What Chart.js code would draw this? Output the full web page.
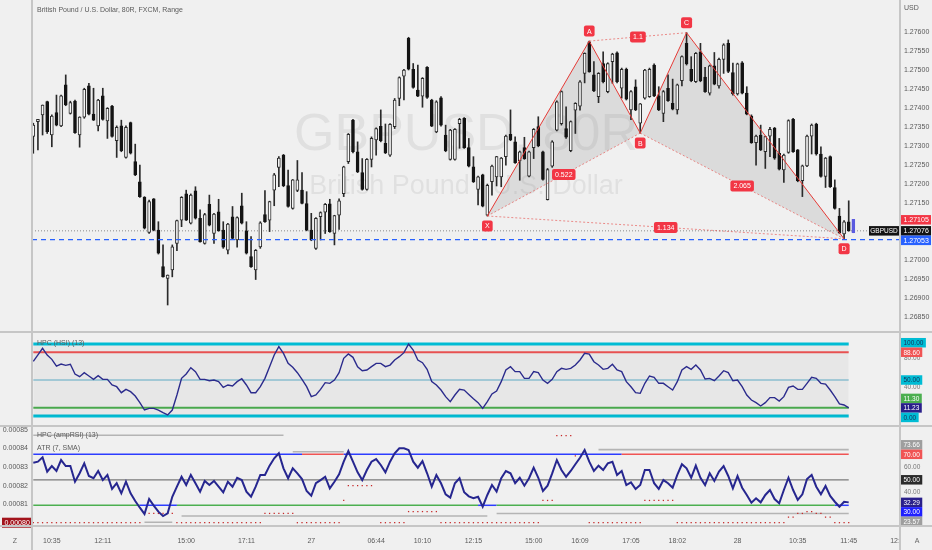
<!DOCTYPE html>
<html><head><meta charset="utf-8">
<script src="https://cdn.jsdelivr.net/npm/chart.js@4.4.1/dist/chart.umd.min.js"></script>
<style>
html,body{margin:0;padding:0;background:#f0f0f0;}
#wrap{position:relative;width:932px;height:550px;overflow:hidden;background:#f0f0f0;}
canvas{position:absolute;left:0;}
.sep{position:absolute;background:#c6c6c6;z-index:5;}
</style></head><body>
<div id="wrap">
<canvas id="c1" width="932" height="332" style="top:0;width:932px;height:332px"></canvas>
<canvas id="c2" width="932" height="94" style="top:332px;width:932px;height:94px"></canvas>
<canvas id="c3" width="932" height="124" style="top:426px;width:932px;height:124px"></canvas>
<div class="sep" style="left:0;top:331px;width:932px;height:2px"></div>
<div class="sep" style="left:0;top:425px;width:932px;height:2px"></div>
<div class="sep" style="left:0;top:525px;width:932px;height:2px"></div>
<div class="sep" style="left:31px;top:0;width:2px;height:550px"></div>
<div class="sep" style="left:899px;top:0;width:2px;height:550px"></div>
</div>
<script>
// ================= DATA =================
const titleText = 'British Pound / U.S. Dollar, 80R, FXCM, Range';
const watermark = ['GBPUSD, 80R', 'British Pound / U.S. Dollar'];

const O = [
1.27324,1.27363,1.27381,1.27416,1.27328,1.27387,1.27352,1.27460,1.27385,1.27417,
1.27328,1.27375,1.27457,1.27383,1.27352,1.27431,1.27365,1.27404,1.27313,1.27352,
1.27269,1.27361,1.27258,1.27205,1.27164,1.27072,1.27160,1.27078,1.26982,1.26951,
1.26973,1.27043,1.27104,1.27173,1.27096,1.27181,1.27109,1.27043,1.27146,1.27069,
1.27126,1.27078,1.27025,1.27113,1.27052,1.27142,1.27076,1.27008,1.26973,1.27034,
1.27119,1.27104,1.27183,1.27243,1.27275,1.27195,1.27135,1.27182,1.27183,1.27148,
1.27078,1.27030,1.27113,1.27125,1.27147,1.27069,1.27117,1.27174,1.27258,1.27367,
1.27284,1.27229,1.27185,1.27264,1.27315,1.27351,1.27306,1.27275,1.27350,1.27424,
1.27483,1.27582,1.27501,1.27446,1.27430,1.27506,1.27420,1.27336,1.27426,1.27328,
1.27264,1.27264,1.27358,1.27372,1.27295,1.27244,1.27185,1.27223,1.27117,1.27205,
1.27218,1.27218,1.27271,1.27330,1.27310,1.27260,1.27295,1.27220,1.27295,1.27350,
1.27284,1.27158,1.27246,1.27341,1.27358,1.27345,1.27287,1.27393,1.27404,1.27490,
1.27573,1.27486,1.27429,1.27516,1.27442,1.27521,1.27544,1.27451,1.27501,1.27394,
1.27455,1.27359,1.27425,1.27429,1.27512,1.27431,1.27385,1.27451,1.27411,1.27394,
1.27471,1.27569,1.27501,1.27468,1.27547,1.27480,1.27438,1.27510,1.27457,1.27527,
1.27569,1.27492,1.27436,1.27518,1.27438,1.27378,1.27308,1.27328,1.27284,1.27325,
1.27346,1.27280,1.27236,1.27282,1.27369,1.27289,1.27208,1.27247,1.27325,1.27357,
1.27278,1.27219,1.27271,1.27190,1.27115,1.27068,1.27100,1.27071];
const H = [
1.27359,1.27369,1.27407,1.27417,1.27381,1.27433,1.27433,1.27486,1.27417,1.27420,
1.27376,1.27451,1.27464,1.27451,1.27422,1.27451,1.27400,1.27406,1.27352,1.27367,
1.27352,1.27362,1.27304,1.27249,1.27166,1.27157,1.27161,1.27100,1.27039,1.26960,
1.27039,1.27104,1.27166,1.27183,1.27173,1.27192,1.27131,1.27122,1.27170,1.27122,
1.27159,1.27100,1.27096,1.27140,1.27113,1.27175,1.27100,1.27061,1.27027,1.27100,
1.27182,1.27154,1.27227,1.27271,1.27277,1.27236,1.27211,1.27261,1.27229,1.27179,
1.27122,1.27111,1.27126,1.27148,1.27159,1.27117,1.27160,1.27246,1.27332,1.27369,
1.27310,1.27266,1.27266,1.27323,1.27347,1.27394,1.27357,1.27358,1.27424,1.27481,
1.27501,1.27585,1.27516,1.27512,1.27479,1.27508,1.27422,1.27418,1.27429,1.27354,
1.27343,1.27345,1.27372,1.27374,1.27319,1.27271,1.27220,1.27225,1.27199,1.27249,
1.27272,1.27269,1.27328,1.27394,1.27323,1.27286,1.27322,1.27286,1.27345,1.27376,
1.27286,1.27240,1.27313,1.27418,1.27444,1.27402,1.27365,1.27413,1.27471,1.27544,
1.27575,1.27521,1.27492,1.27547,1.27518,1.27543,1.27547,1.27504,1.27504,1.27445,
1.27473,1.27411,1.27501,1.27504,1.27515,1.27455,1.27445,1.27486,1.27475,1.27462,
1.27536,1.27597,1.27534,1.27545,1.27569,1.27506,1.27512,1.27545,1.27530,1.27568,
1.27578,1.27517,1.27517,1.27521,1.27455,1.27381,1.27328,1.27354,1.27325,1.27348,
1.27348,1.27319,1.27278,1.27368,1.27372,1.27290,1.27249,1.27328,1.27357,1.27359,
1.27297,1.27269,1.27273,1.27210,1.27135,1.27103,1.27155,1.27106];
const L = [
1.27280,1.27289,1.27328,1.27332,1.27297,1.27352,1.27350,1.27405,1.27383,1.27332,
1.27296,1.27372,1.27381,1.27366,1.27339,1.27367,1.27319,1.27322,1.27269,1.27284,
1.27267,1.27278,1.27221,1.27164,1.27081,1.27069,1.27076,1.27015,1.26954,1.26881,
1.26955,1.27024,1.27087,1.27103,1.27094,1.27107,1.27046,1.27041,1.27089,1.27043,
1.27075,1.27030,1.27015,1.27054,1.27033,1.27094,1.27015,1.26980,1.26948,1.27030,
1.27098,1.27074,1.27142,1.27192,1.27192,1.27138,1.27133,1.27179,1.27147,1.27076,
1.27050,1.27027,1.27052,1.27069,1.27072,1.27039,1.27080,1.27166,1.27253,1.27281,
1.27229,1.27183,1.27183,1.27244,1.27275,1.27310,1.27279,1.27272,1.27345,1.27405,
1.27420,1.27499,1.27451,1.27429,1.27401,1.27424,1.27350,1.27334,1.27351,1.27284,
1.27262,1.27262,1.27293,1.27293,1.27244,1.27203,1.27144,1.27139,1.27115,1.27170,
1.27194,1.27192,1.27249,1.27313,1.27253,1.27209,1.27264,1.27218,1.27266,1.27297,
1.27209,1.27157,1.27243,1.27339,1.27354,1.27319,1.27284,1.27332,1.27393,1.27465,
1.27493,1.27442,1.27413,1.27465,1.27439,1.27464,1.27465,1.27425,1.27420,1.27368,
1.27392,1.27333,1.27422,1.27427,1.27429,1.27392,1.27363,1.27416,1.27394,1.27383,
1.27457,1.27512,1.27468,1.27466,1.27468,1.27440,1.27433,1.27460,1.27451,1.27490,
1.27492,1.27433,1.27433,1.27436,1.27381,1.27306,1.27249,1.27287,1.27240,1.27271,
1.27264,1.27236,1.27203,1.27280,1.27282,1.27205,1.27166,1.27245,1.27278,1.27275,
1.27217,1.27190,1.27190,1.27133,1.27069,1.27055,1.27075,1.27071];
const C = [
1.27354,1.27369,1.27407,1.27337,1.27378,1.27354,1.27431,1.27407,1.27413,1.27334,
1.27375,1.27448,1.27383,1.27367,1.27420,1.27369,1.27398,1.27324,1.27348,1.27287,
1.27348,1.27280,1.27223,1.27166,1.27083,1.27153,1.27078,1.27017,1.26955,1.26960,
1.27034,1.27103,1.27164,1.27104,1.27170,1.27109,1.27047,1.27119,1.27091,1.27120,
1.27076,1.27033,1.27094,1.27056,1.27111,1.27096,1.27017,1.26982,1.27025,1.27097,
1.27100,1.27153,1.27223,1.27267,1.27195,1.27140,1.27210,1.27210,1.27148,1.27078,
1.27052,1.27109,1.27124,1.27146,1.27074,1.27116,1.27155,1.27244,1.27330,1.27284,
1.27231,1.27185,1.27264,1.27319,1.27345,1.27313,1.27281,1.27356,1.27420,1.27479,
1.27499,1.27501,1.27453,1.27430,1.27477,1.27427,1.27351,1.27415,1.27354,1.27287,
1.27341,1.27343,1.27369,1.27295,1.27246,1.27205,1.27218,1.27141,1.27196,1.27246,
1.27271,1.27267,1.27325,1.27315,1.27255,1.27284,1.27266,1.27284,1.27343,1.27299,
1.27211,1.27237,1.27310,1.27415,1.27442,1.27322,1.27363,1.27411,1.27468,1.27543,
1.27494,1.27444,1.27490,1.27468,1.27516,1.27541,1.27468,1.27501,1.27422,1.27442,
1.27394,1.27410,1.27499,1.27501,1.27431,1.27394,1.27442,1.27418,1.27396,1.27460,
1.27534,1.27515,1.27471,1.27543,1.27471,1.27442,1.27510,1.27462,1.27527,1.27565,
1.27495,1.27436,1.27515,1.27438,1.27383,1.27308,1.27325,1.27289,1.27324,1.27343,
1.27267,1.27238,1.27275,1.27366,1.27284,1.27208,1.27247,1.27325,1.27354,1.27278,
1.27219,1.27267,1.27192,1.27135,1.27071,1.27100,1.27076,1.27106];

// harmonic pattern points (bar index, price)
const patNames = ['X','A','B','C','D'];
const patIdx   = [98, 120, 131, 141, 175];
const patPrice = [1.27115, 1.27575, 1.27333, 1.27597, 1.27055];
const patRatios = ['0.522','1.1','2.065','1.134'];   // XB, AC, BD, XD
const patRatioPairs = [[0,2],[1,3],[2,4],[0,4]];

// price axis
const priceTicks = [1.276,1.2755,1.275,1.2745,1.274,1.2735,1.273,1.2725,1.272,1.2715,1.270,1.2695,1.269,1.2685];
const priceBoxValues = [1.27105, 1.27076, 1.27053];
const lastPrice = 1.27076;
const bidLine = 1.27053;

// x axis
const xTickIdx    = [4, 15, 33, 46, 60, 74, 84, 95, 108, 118, 129, 139, 152, 165, 176, 186];
const xTickLabels = ['10:35','12:11','15:00','17:11','27','06:44','10:10','12:15','15:00','16:09','17:05','18:02','28','10:35','11:45','12:'];

// HPC (HSI) (13)
const hsi = [
76,85,94,84.7,78.7,69.4,72.2,70.4,71.8,58.3,
54.6,60.2,55.6,50.9,56,50.9,50.9,43.1,40.7,32.4,
37,33.8,27.8,18.5,8.3,10.6,10.6,8.3,4.6,1.4,
8.3,29.2,52.3,58.3,67.1,61.6,50.9,50.9,49,50,
47.7,39.8,43.1,41.7,47.7,51.8,43.1,32.4,32.4,40.7,
52.3,68.5,84.7,96.3,87,73.1,67.6,60.2,50.9,40.7,
26.9,29.2,37,46.3,45.4,50,60.2,80.1,86.1,81.5,
68.5,62.9,63.9,68.5,73.1,73.1,68.5,70.8,77.8,82.4,
88,100,91.7,77.8,74.1,64.8,48,43.1,36.1,26.9,
19.9,29.2,37,36,30,24,18.5,10.6,19.9,30.6,
34.7,47.7,63.9,68.5,61.6,61.6,52.3,52.3,61.6,60.2,
50,45.4,50.9,61.6,66.2,64.8,66.2,70.8,77.8,87,
86.1,75.4,70.8,64.8,66.2,71.8,63.9,61.6,47.7,40.7,
32.4,31.5,45.4,55.6,53.7,45.4,45.4,40.7,36.1,47.7,
63.9,68.5,64.8,70.8,63.9,51.4,52.3,49,55.6,62.9,
60.2,49,50,40.7,29.2,22.2,18.5,13.9,18.5,25.5,
25.5,20.8,26.9,39.8,41.7,37,37,45.4,53.7,52.3,
45.4,44.4,36.1,26.9,16.7,15.3,11.23];
const hsiLevels = [100, 88.6, 50, 11.3, 0];
const hsiAxisTicks = [80, 40];
const hsiBoxValues = [100, 88.6, 50, 11.3, 11.23, 0];

// HPC (ampRSI) (13)
const amp = [
63.4,64.2,67.6,56.4,60.8,56.9,65.5,60.8,60.8,48.5,
55.1,62.9,53,51.2,56.9,49.8,53.8,42.8,47.3,39.4,
48.5,39.4,33.4,28.1,23.2,34.9,29.7,25,21.6,23.7,
36.7,44.6,52.4,45.9,53.8,47.3,40.7,49.1,45.9,49.1,
44.6,40.2,48.5,44.6,51.6,49.8,40.7,36.7,44.6,53.8,
53.8,61.1,66.9,70.8,59,51.2,59,55.1,50.6,41.2,
37.5,47.3,49.8,52.4,43.3,48.5,54.3,64.2,72.6,64.2,
55.9,49.8,57.7,64.2,66.3,61.6,55.9,64.2,70.8,74.7,
74.7,73.4,64.2,59.5,64.7,55.1,44.6,53.8,47.3,38.6,
36,47.3,51.2,40.2,37,35.5,36.7,28.9,38.1,45.9,
40.7,51.2,56.9,55.1,47.3,51.6,45.4,51.2,59.5,51.6,
41.2,45.4,55,65.5,57.7,52.4,56.9,62.2,67.3,73.4,
64.2,56.9,61.1,57.7,62.9,64.2,53.8,56.9,45.9,48,
42.8,45.9,57.7,57.7,47.3,42.8,49.8,47.3,43.8,53.8,
62.2,59,51.6,61.1,51.6,45.9,55.1,49.1,56.4,60.8,
53,43.3,53,43.8,38.1,32,35.5,32.3,38.1,42,
34.9,31.6,42,51.6,42,34.2,38.6,50.6,53.8,44.6,
38.6,45.1,37.3,32.8,28.9,32.8,32.29];
const ampLevels = [70, 50, 30];
const ampObRanges = [[58,67],[127,176]];
const ampOsRanges = [[23,31],[96,100],[173,176]];
const ampUpperSegs = [[0,54,85.0],[56,67,72.0],[122,176,73.66]];
const ampLowerSegs = [[24,30,16.7],[32,98,21.6],[100,176,23.57]];
const ampAxisTicks = [60, 40];
const ampBoxValues = [73.66, 70, 50, 32.29, 30, 23.57];

// ATR (7, SMA)
const atr = [
0.0008,0.0008,0.0008,0.0008,0.0008,0.0008,0.0008,0.0008,0.0008,0.0008,
0.0008,0.0008,0.0008,0.0008,0.0008,0.0008,0.0008,0.0008,0.0008,0.0008,
0.0008,0.0008,0.0008,0.0008,0.000805,0.000805,0.000805,0.000805,0.000805,0.000805,
0.000805,0.0008,0.0008,0.0008,0.0008,0.0008,0.0008,0.0008,0.0008,0.0008,
0.0008,0.0008,0.0008,0.0008,0.0008,0.0008,0.0008,0.0008,0.0008,0.0008,
0.000805,0.000805,0.000805,0.000805,0.000805,0.000805,0.000805,0.0008,0.0008,0.0008,
0.0008,0.0008,0.0008,0.0008,0.0008,0.0008,0.0008,0.000812,0.00082,0.00082,
0.00082,0.00082,0.00082,0.00082,null,0.0008,0.0008,0.0008,0.0008,0.0008,
0.0008,0.000806,0.000806,0.000806,0.000806,0.000806,0.000806,0.000806,0.0008,0.0008,
0.0008,0.0008,0.0008,0.0008,0.0008,0.0008,0.0008,0.0008,0.0008,0.0008,
0.0008,0.0008,0.0008,0.0008,0.0008,0.0008,0.0008,0.0008,0.0008,0.0008,
0.000812,0.000812,0.000812,0.000847,0.000847,0.000847,0.000847,0.000836,null,null,
0.0008,0.0008,0.0008,0.0008,0.0008,0.0008,0.0008,0.0008,0.0008,0.0008,
0.0008,0.0008,0.000812,0.000812,0.000812,0.000812,0.000812,0.000812,0.000812,0.0008,
0.0008,0.0008,0.0008,0.0008,0.0008,0.0008,0.0008,0.0008,0.0008,0.0008,
0.0008,0.0008,0.0008,0.0008,0.0008,0.0008,0.0008,0.0008,0.0008,0.0008,
0.0008,0.0008,0.0008,0.000803,0.000803,0.000805,0.000805,0.000806,0.000806,0.000805,
0.000805,0.000803,0.000803,0.0008,0.0008,0.0008,0.0008];
const atrAxisTicks = [0.00085, 0.00084, 0.00083, 0.00082, 0.00081];
const atrBoxValue = 0.0008;

// ================= VIEW / STYLE =================
const FONT = '"Liberation Sans", Arial, sans-serif';
const X_MIN = -0.28, X_MAX = 187.07;
const TXT = '#5a5a5a';

Chart.defaults.font.family = FONT;

const pts = arr => arr.map((v,i)=>({x:i, y:v}));
const lvl = (v, n) => [{x:0,y:v},{x:n,y:v}];
const segPts = segs => segs.flatMap(([s,e,v]) => [{x:s,y:v},{x:e,y:v},{x:e,y:null}]);
const inR = (k, ranges) => ranges.some(([s,e]) => k>=s && k<e);
const fitV = s => { s.width = 32; s.paddingTop = 0; s.paddingBottom = 0; };

function xScale(show){
  return {type:'linear', min:X_MIN, max:X_MAX, offset:false, display:show,
    grid:{display:false, drawTicks:false}, border:{display:false}};
}
function rrect(ctx,x,y,w,h,r){
  ctx.beginPath();
  if (ctx.roundRect) ctx.roundRect(x,y,w,h,r); else ctx.rect(x,y,w,h);
}
function badge(ctx, cx, cy, text, fontPx){
  ctx.font = fontPx+'px '+FONT;
  const w = Math.max(10, ctx.measureText(text).width + 6), h = 11;
  ctx.fillStyle = '#f23645';
  rrect(ctx, cx-w/2, cy-h/2, w, h, 2); ctx.fill();
  ctx.fillStyle = '#fff'; ctx.textAlign='center'; ctx.textBaseline='middle';
  ctx.fillText(text, cx, cy+0.5);
}
// axis value boxes with overlap resolution around an anchor label
function axisBoxes(chart, scaleId, items, x0, fixedW, h, fontPx, alignRight){
  const sc = chart.scales[scaleId], ctx = chart.ctx;
  const arr = items.map(it => Object.assign({}, it, {y: sc.getPixelForValue(it.v)}));
  arr.sort((a,b)=> (a.y-b.y) || (b.v-a.v));
  const ai = arr.findIndex(a=>a.anchor);
  for (let k=ai-1;k>=0;k--) arr[k].y = Math.min(arr[k].y, arr[k+1].y-h);
  for (let k=ai+1;k<arr.length;k++) arr[k].y = Math.max(arr[k].y, arr[k-1].y+h);
  ctx.save();
  ctx.font = fontPx+'px '+FONT; ctx.textBaseline='middle';
  arr.forEach(a=>{
    const w = fixedW || (ctx.measureText(a.t).width + 5);
    const bx = alignRight ? x0 - w : x0;
    ctx.fillStyle = a.bg; ctx.fillRect(bx, a.y-h/2, w, h);
    ctx.fillStyle = a.fg; ctx.textAlign='left';
    ctx.fillText(a.t, bx+2.5, a.y+0.5);
  });
  ctx.restore();
}
const baseOpts = {
  responsive:false, animation:false, devicePixelRatio:1, events:[],
  plugins:{legend:{display:false}, tooltip:{enabled:false}}
};
const tickFont = {family:FONT, size:7};

// ================= MAIN PRICE PANEL =================
const nBars = O.length;
const bodyData = O.map((o,i)=>({x:i, y:[o, C[i]]}));
const wickData = O.map((o,i)=>({x:i, y:[L[i], H[i]]}));
const isLast = i => i === nBars-1;
const bodyFill = O.map((o,i)=> isLast(i) ? '#5b5be0' : (C[i] >= o ? '#f7f7f7' : '#141414'));
const bodyEdge = O.map((o,i)=> isLast(i) ? '#5b5be0' : (C[i] >= o ? '#2a2a2a' : '#141414'));
const wickCol  = O.map((o,i)=> isLast(i) ? '#5b5be0' : '#2a2a2a');
const patPt = k => ({x:patIdx[k], y:patPrice[k]});
const dotted = (a,b) => ({type:'line', data:[patPt(a), patPt(b)], borderColor:'rgba(229,57,53,0.55)',
  borderWidth:1, borderDash:[2,2], pointRadius:0, order:1});

const mainPlugin = {
  id:'mainDecor',
  beforeDatasetsDraw(chart){
    const {ctx, chartArea:a, scales:{y}} = chart;
    ctx.save();
    ctx.fillStyle='rgba(0,0,0,0.065)'; ctx.textAlign='center'; ctx.textBaseline='middle';
    const cx=(a.left+a.right)/2;
    ctx.font='52px '+FONT; ctx.fillText(watermark[0], cx, 136);
    ctx.font='27px '+FONT; ctx.fillText(watermark[1], cx, 187);
    const yl = y.getPixelForValue(lastPrice);
    ctx.strokeStyle='#8a8a8a'; ctx.lineWidth=1; ctx.setLineDash([1,2]);
    ctx.beginPath(); ctx.moveTo(a.left, yl); ctx.lineTo(a.right-32, yl); ctx.stroke();
    ctx.restore();
  },
  afterDatasetsDraw(chart){
    const {ctx, chartArea:a, scales:{x,y}} = chart;
    ctx.save();
    const yb = y.getPixelForValue(bidLine);
    ctx.strokeStyle='#2962ff'; ctx.lineWidth=1.3; ctx.setLineDash([5,4]);
    ctx.beginPath(); ctx.moveTo(a.left, yb); ctx.lineTo(a.right, yb); ctx.stroke();
    ctx.setLineDash([]);
    patIdx.forEach((xi,k)=>{
      const px = x.getPixelForValue(xi), py = y.getPixelForValue(patPrice[k]);
      const up = (k===1 || k===3);
      badge(ctx, px, py + (up ? -10 : 10), patNames[k], 7);
    });
    patRatioPairs.forEach(([p,q],k)=>{
      const mx = (x.getPixelForValue(patIdx[p]) + x.getPixelForValue(patIdx[q]))/2;
      const my = (y.getPixelForValue(patPrice[p]) + y.getPixelForValue(patPrice[q]))/2;
      badge(ctx, mx, my, patRatios[k], 7);
    });
    ctx.fillStyle=TXT; ctx.font='7px '+FONT; ctx.textAlign='left'; ctx.textBaseline='middle';
    ctx.fillText(titleText, a.left+5, 10);
    ctx.restore();
  },
  afterDraw(chart){
    const {ctx, chartArea:a, scales:{y}} = chart;
    axisBoxes(chart, 'y', [
      {v:priceBoxValues[0], t:priceBoxValues[0].toFixed(5), bg:'#f23645', fg:'#fff'},
      {v:priceBoxValues[1], t:priceBoxValues[1].toFixed(5), bg:'#131313', fg:'#fff', anchor:true},
      {v:priceBoxValues[2], t:priceBoxValues[2].toFixed(5), bg:'#2962ff', fg:'#fff'}
    ], a.right+1, 30, 9.5, 7, false);
    ctx.save();
    const yl = y.getPixelForValue(lastPrice);
    ctx.fillStyle='#131313'; ctx.fillRect(a.right-31, yl-4.75, 30, 9.5);
    ctx.fillStyle='#fff'; ctx.font='6.5px '+FONT; ctx.textAlign='center'; ctx.textBaseline='middle';
    ctx.fillText('GBPUSD', a.right-16, yl+0.5);
    ctx.fillStyle=TXT; ctx.font='7px '+FONT; ctx.textAlign='left';
    ctx.fillText('USD', a.right+4, 8);
    ctx.restore();
  }
};

new Chart(document.getElementById('c1'), {
  type:'bar',
  data:{datasets:[
    {type:'line', data:patIdx.map((_,k)=>patPt(k)), borderColor:'#e53935', borderWidth:1, pointRadius:0, order:0},
    dotted(0,2), dotted(1,3), dotted(2,4), dotted(0,4),
    {type:'bar', data:bodyData, backgroundColor:bodyFill, borderColor:bodyEdge, borderWidth:1,
      borderSkipped:false, barThickness:3, grouped:false, order:2},
    {type:'bar', data:wickData, backgroundColor:wickCol, borderWidth:0, barThickness:1, grouped:false, order:3},
    {type:'line', data:[patPt(0),patPt(1),patPt(2)], fill:'shape', backgroundColor:'rgba(120,120,120,0.17)',
      borderWidth:0, pointRadius:0, order:4},
    {type:'line', data:[patPt(2),patPt(3),patPt(4)], fill:'shape', backgroundColor:'rgba(120,120,120,0.17)',
      borderWidth:0, pointRadius:0, order:4}
  ]},
  options:Object.assign({}, baseOpts, {
    layout:{autoPadding:false, padding:{left:32, right:0, top:0, bottom:0}},
    scales:{
      x: xScale(false),
      y:{position:'right', min:1.26810, max:1.27683, grid:{display:false, drawTicks:false}, border:{display:false},
        afterBuildTicks: s => { s.ticks = priceTicks.map(v=>({value:v})); },
        afterFit: fitV,
        ticks:{font:tickFont, color:TXT, padding:4, callback: v => Number(v).toFixed(5)}}
    }
  }),
  plugins:[mainPlugin]
});

// ================= HSI PANEL =================
const nInd = hsi.length - 1;
const hsiCols = ['#00bcd4','#f05454','#8fc5d6','#4caf50','#00bcd4'];
const hsiW = [3, 2, 1.5, 2, 3];
const hsiPlugin = {
  id:'hsiDecor',
  afterDatasetsDraw(chart){
    const {ctx, chartArea:a} = chart;
    ctx.save(); ctx.fillStyle=TXT; ctx.font='7px '+FONT; ctx.textAlign='left'; ctx.textBaseline='middle';
    ctx.fillText('HPC (HSI) (13)', a.left+5, 11); ctx.restore();
  },
  afterDraw(chart){
    const a = chart.chartArea;
    const st = [['#00bcd4','#14305a'],['#f05454','#fff'],['#00bcd4','#14305a'],['#4caf50','#fff'],['#2a1f8a','#fff'],['#00bcd4','#14305a']];
    axisBoxes(chart, 'y', hsiBoxValues.map((v,k)=>({v, t:v.toFixed(2), bg:st[k][0], fg:st[k][1], anchor: v===hsi[nInd]})),
      a.right+1, 0, 9.5, 6.5, false);
  }
};
new Chart(document.getElementById('c2'), {
  type:'line',
  data:{datasets:[
    {data:pts(hsi), borderColor:'#2b2b8c', borderWidth:1.4, pointRadius:0, order:0},
    ...hsiLevels.map((v,k)=>({data:lvl(v,nInd), borderColor:hsiCols[k], borderWidth:hsiW[k], pointRadius:0, order:1+k,
      fill: k===0 ? {value:0} : false, backgroundColor:'rgba(0,0,0,0.035)'}))
  ]},
  options:Object.assign({}, baseOpts, {
    layout:{autoPadding:false, padding:{left:32, right:0, top:0, bottom:0}},
    scales:{
      x: xScale(false),
      y:{position:'right', min:-13.9, max:116.7, grid:{display:false, drawTicks:false}, border:{display:false},
        afterBuildTicks: s => { s.ticks = hsiAxisTicks.map(v=>({value:v})); },
        afterFit: fitV,
        ticks:{font:{family:FONT,size:6.5}, color:'#777', padding:4, callback: v => Number(v).toFixed(2)}}
    }
  }),
  plugins:[hsiPlugin]
});

// ================= ampRSI / ATR PANEL =================
const ampPlugin = {
  id:'ampDecor',
  afterDatasetsDraw(chart){
    const {ctx, chartArea:a} = chart;
    ctx.save(); ctx.fillStyle=TXT; ctx.font='7px '+FONT; ctx.textAlign='left'; ctx.textBaseline='middle';
    ctx.fillText('HPC (ampRSI) (13)', a.left+5, 9);
    ctx.fillText('ATR (7, SMA)', a.left+5, 22);
    ctx.restore();
  },
  afterDraw(chart){
    const {ctx, chartArea:a} = chart;
    const st = [['#9e9e9e','#fff'],['#f05454','#fff'],['#2b2b2b','#fff'],['#2a1f8a','#fff'],['#1f1fff','#fff'],['#9e9e9e','#fff']];
    axisBoxes(chart, 'yR', ampBoxValues.map((v,k)=>({v, t:v.toFixed(2), bg:st[k][0], fg:st[k][1], anchor: v===amp[nInd]})),
      a.right+1, 0, 9.5, 6.5, false);
    axisBoxes(chart, 'yL', [{v:atrBoxValue, t:atrBoxValue.toFixed(5), bg:'#a3141c', fg:'#fff', anchor:true}],
      a.left-1, 29, 10, 7, true);
    ctx.save(); ctx.fillStyle='#666'; ctx.font='7px '+FONT; ctx.textAlign='center'; ctx.textBaseline='middle';
    ctx.fillText('Z', 15, 115); ctx.fillText('A', 917, 115);
    ctx.restore();
  }
};
new Chart(document.getElementById('c3'), {
  type:'line',
  data:{datasets:[
    {data:pts(amp), yAxisID:'yR', borderColor:'#26268f', borderWidth:2, pointRadius:0, order:0},
    {data:pts(amp.map(()=>ampLevels[0])), yAxisID:'yR', borderWidth:1.5, pointRadius:0, order:2,
      segment:{borderColor: c => inR(c.p0DataIndex, ampObRanges) ? '#f05454' : '#2d3cff'}},
    {data:lvl(ampLevels[1], nInd), yAxisID:'yR', borderColor:'#7a7a7a', borderWidth:1.3, pointRadius:0, order:3},
    {data:pts(amp.map(()=>ampLevels[2])), yAxisID:'yR', borderWidth:1.5, pointRadius:0, order:2,
      segment:{borderColor: c => inR(c.p0DataIndex, ampOsRanges) ? '#2d3cff' : '#4caf50'}},
    {data:segPts(ampUpperSegs), yAxisID:'yR', borderColor:'#b4b4b4', borderWidth:1.6, pointRadius:0, spanGaps:false, order:4},
    {data:segPts(ampLowerSegs), yAxisID:'yR', borderColor:'#b4b4b4', borderWidth:1.6, pointRadius:0, spanGaps:false, order:4},
    {data:pts(atr), yAxisID:'yL', showLine:false, pointStyle:'rect', pointRadius:0.9, pointBorderWidth:0,
      pointBackgroundColor:'#c62828', order:1}
  ]},
  options:Object.assign({}, baseOpts, {
    layout:{autoPadding:false, padding:0},
    scales:{
      x: Object.assign(xScale(true), {
        afterBuildTicks: s => { s.ticks = xTickIdx.map(v=>({value:v})); },
        afterFit: s => { s.height = 24; s.paddingLeft = 0; s.paddingRight = 0; },
        ticks:{font:tickFont, color:TXT, padding:11, autoSkip:false, maxRotation:0,
          callback: v => xTickLabels[xTickIdx.indexOf(v)]}}),
      yL:{position:'left', min:0.00079822, max:0.00085216, grid:{display:false, drawTicks:false}, border:{display:false},
        afterBuildTicks: s => { s.ticks = atrAxisTicks.map(v=>({value:v})); },
        afterFit: fitV,
        ticks:{font:tickFont, color:TXT, padding:4, callback: v => Number(v).toFixed(5)}},
      yR:{position:'right', min:13.76, max:92.2, grid:{display:false, drawTicks:false}, border:{display:false},
        afterBuildTicks: s => { s.ticks = ampAxisTicks.map(v=>({value:v})); },
        afterFit: fitV,
        ticks:{font:{family:FONT,size:6.5}, color:'#777', padding:4, callback: v => Number(v).toFixed(2)}}
    }
  }),
  plugins:[ampPlugin]
});
</script>
</body></html>
